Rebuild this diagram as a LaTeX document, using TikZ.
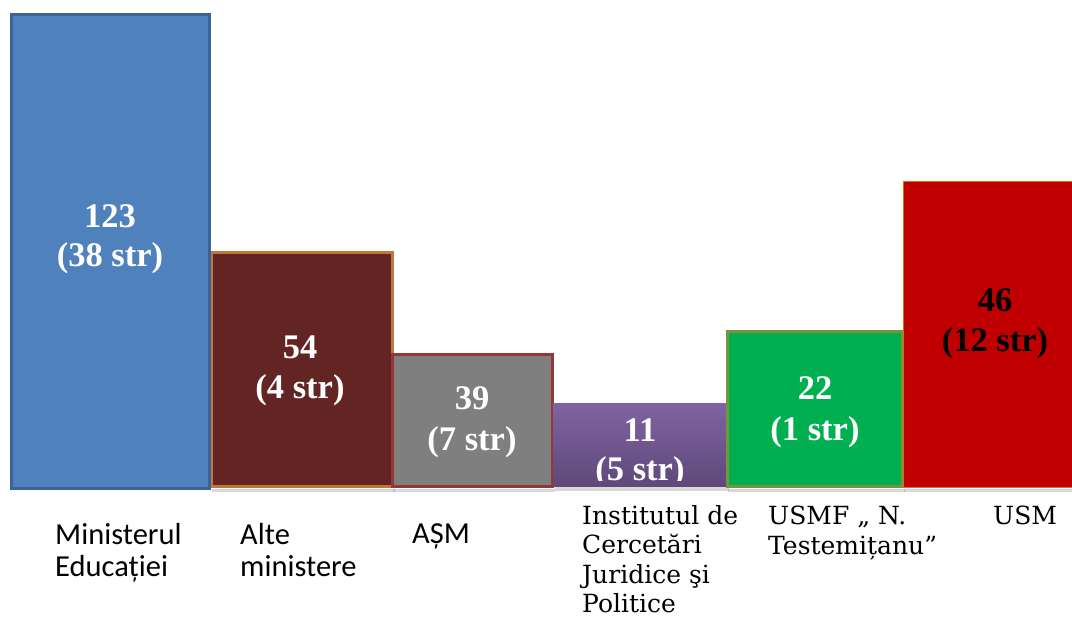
\documentclass[tikz,border=0pt]{standalone}
\usepackage{fontspec}
\setmainfont{Liberation Serif}
\newfontfamily\labsans{Carlito}
\newfontfamily\labserif{DejaVu Serif}
\definecolor{cBlue}{HTML}{4F81BD}
\definecolor{cBlueB}{HTML}{3C6395}
\definecolor{cBrown}{HTML}{632523}
\definecolor{cBrownB}{HTML}{C0783A}
\definecolor{cGray}{HTML}{7F7F7F}
\definecolor{cGrayB}{HTML}{953735}
\definecolor{cPurT}{HTML}{8064A2}
\definecolor{cPurB}{HTML}{5E497A}
\definecolor{cGreen}{HTML}{00B050}
\definecolor{cGreenB}{HTML}{77933C}
\definecolor{cRed}{HTML}{C00000}
\definecolor{cRedB}{HTML}{E46C0A}
\begin{document}
\begin{tikzpicture}[x=1pt,y=-1pt,
  bar/.style={line width=3pt},
  shad/.style={fill=black, opacity=0.15},
  num/.style={font=\fontsize{34.5}{34}\selectfont\bfseries, text=white, anchor=base, inner sep=0pt},
  labs/.style={font=\fontsize{30.5}{32}\selectfont\labsans, anchor=north west, inner sep=0pt, align=left},
  labr/.style={font=\fontsize{25}{29.5}\selectfont\labserif, anchor=north west, inner sep=0pt, align=left}]
\useasboundingbox (0,0) rectangle (1072,619);
% shadows
\fill[shad] (212,489) rectangle (395,492);
\fill[shad] (393,489) rectangle (555,492);
\fill[shad] (555,487) rectangle (729,491);
\fill[shad] (728,489) rectangle (905,492);
\fill[shad] (904,489) rectangle (1072,492);
% bars
\filldraw[bar, fill=cBrown, draw=cBrownB] (211,252) rectangle (392,486);
\filldraw[bar, fill=cGray, draw=cGrayB] (392,354) rectangle (552,486);
\shade[top color=cPurT, bottom color=cPurB] (553,403) rectangle (727,486);
\filldraw[bar, fill=cGreen, draw=cGreenB] (727,331) rectangle (902,486);
\filldraw[line width=1pt, fill=cRed, draw=cRedB] (903,181) rectangle (1075,487);
\filldraw[bar, fill=cBlue, draw=cBlueB] (11,14) rectangle (209,488);
% values
\node[num] (v1a) at (110,227) {123};
\node[num] (v1b) at (110,266) {(38 str)};
\node[num] (v2a) at (300,358) {54};
\node[num] (v2b) at (300,398) {(4 str)};
\node[num] (v3a) at (472,409) {39};
\node[num] (v3b) at (472,450) {(7 str)};
\begin{scope}
\clip (553,403) rectangle (727,480);
\node[num] (v4a) at (640,441) {11};
\node[num] (v4b) at (640,480) {(5 str)};
\end{scope}
\node[num] (v5a) at (815,399) {22};
\node[num] (v5b) at (815,440) {(1 str)};
\node[num, text=black] (v6a) at (995,311) {46};
\node[num, text=black] (v6b) at (995,351) {(12 str)};
% labels
\node[labs] (l1) at (55,523) {Ministerul\\Educației};
\node[labs] (l2) at (240,523) {Alte\\ministere};
\node[labs] (l3) at (412,524) {AȘM};
\node[labr] (l4) at (582,505) {Institutul de\\Cercetări\\Juridice şi\\Politice};
\node[labr] (l5) at (768,506) {USMF „ N.\\Testemițanu”};
\node[labr] (l6) at (993,506) {USM};
\end{tikzpicture}
\end{document}
